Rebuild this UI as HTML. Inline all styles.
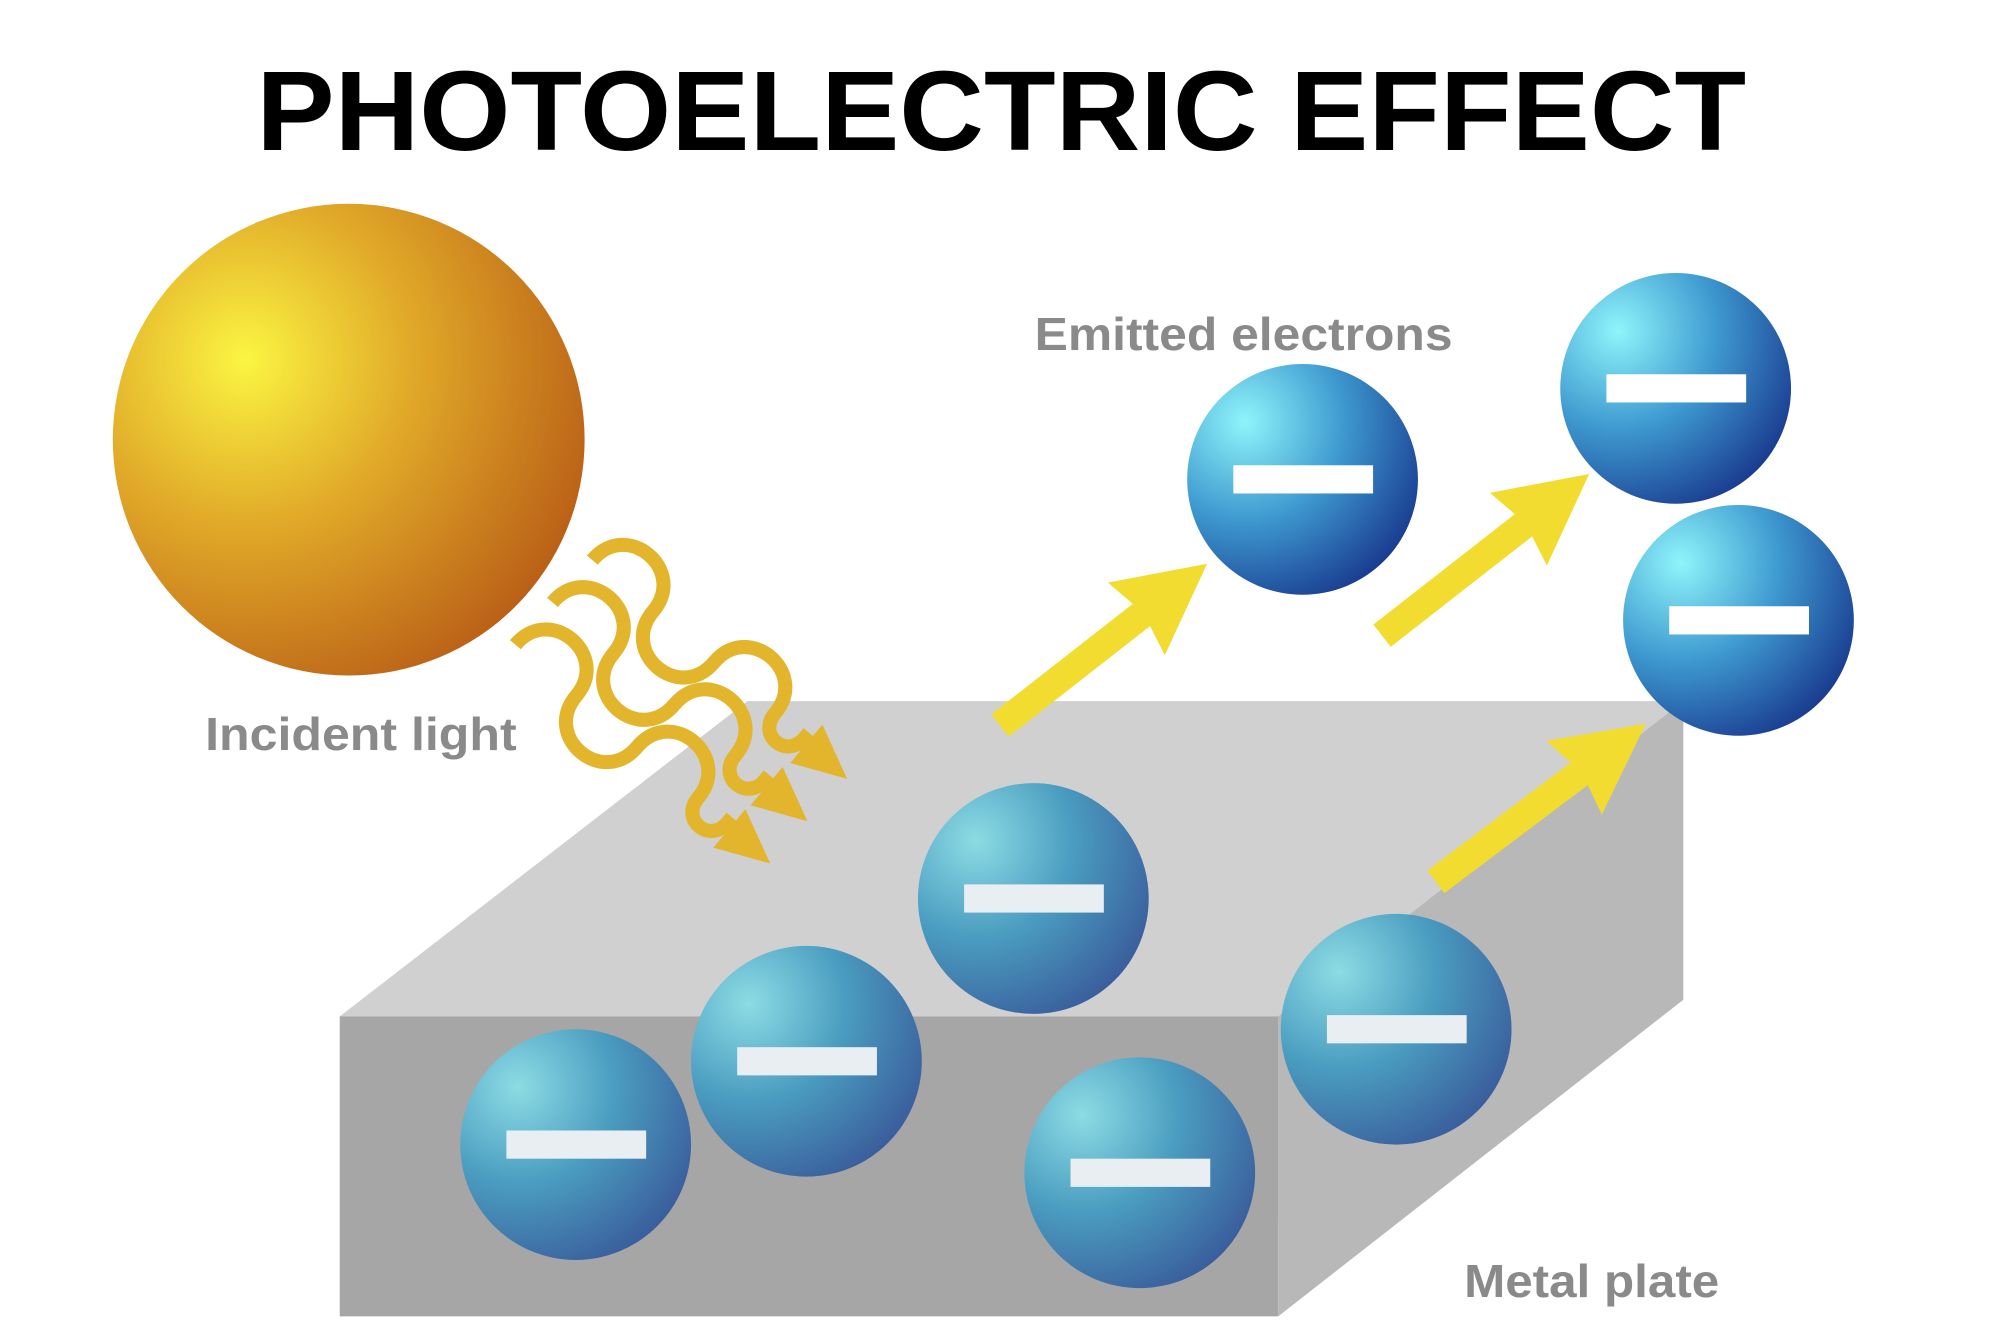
<!DOCTYPE html>
<html><head><meta charset="utf-8"><style>html,body{margin:0;padding:0;background:#fff}svg{display:block}</style></head>
<body>
<svg width="2000" height="1333" viewBox="0 0 1560 1040" preserveAspectRatio="none" xmlns="http://www.w3.org/2000/svg">
<defs>
<radialGradient id="sun" cx="0.28" cy="0.33" r="0.8">
<stop offset="0" stop-color="#fbf542"/><stop offset="0.45" stop-color="#e0a828"/><stop offset="1" stop-color="#b85c16"/>
</radialGradient>
<radialGradient id="el" cx="0.25" cy="0.25" r="0.85">
<stop offset="0" stop-color="#90f4fa"/><stop offset="0.5" stop-color="#3e9ad0"/><stop offset="1" stop-color="#1a3c90"/>
</radialGradient>
<radialGradient id="eli" cx="0.25" cy="0.25" r="0.85">
<stop offset="0" stop-color="#8cdce4"/><stop offset="0.5" stop-color="#4a9cc0"/><stop offset="1" stop-color="#3a5e9c"/>
</radialGradient>
<g id="wave">
<path d="M0,0 c0,-42 62,-42 62,0 c0,42 62,42 62,0 c0,-42 62,-42 62,0 c0,22 30,22 30,0 l14,0" fill="none" stroke="#e2b52c" stroke-width="11"/>
<polygon points="220,-17 262,3 220,22" fill="#e2b52c"/>
</g>
<g id="arr"><polygon points="0,-11 140,-11 135,-36 205,0 135,36 140,11 0,11" fill="#f2dc30"/></g>
</defs>
<text x="781" y="117" text-anchor="middle" font-family="Liberation Sans, sans-serif" font-weight="bold" font-size="88" textLength="1162" lengthAdjust="spacingAndGlyphs" fill="#000">PHOTOELECTRIC EFFECT</text>
<circle cx="272" cy="343" r="184" fill="url(#sun)"/>
<polygon points="265,793 583,547 1313,547 997,793" fill="#d0d0d0"/>
<polygon points="997,793 1313,547 1313,780 997,1027" fill="#b8b8b8"/>
<polygon points="265,793 997,793 997,1027 265,1027" fill="#a6a6a6"/>
<use href="#wave" transform="translate(462,437) rotate(40)"/>
<use href="#wave" transform="translate(431,470) rotate(40)"/>
<use href="#wave" transform="translate(402,503) rotate(40)"/>
<use href="#arr" transform="translate(780,566) rotate(-38)"/>
<use href="#arr" transform="translate(1078,496) rotate(-38)"/>
<use href="#arr" transform="translate(1120,688) rotate(-37)"/>
<g>
<circle cx="1016" cy="374" r="90" fill="url(#el)"/><rect x="962" y="363" width="109" height="22" fill="#fff"/>
<circle cx="1307" cy="303" r="90" fill="url(#el)"/><rect x="1253" y="292" width="109" height="22" fill="#fff"/>
<circle cx="1356" cy="484" r="90" fill="url(#el)"/><rect x="1302" y="473" width="109" height="22" fill="#fff"/>
<circle cx="806" cy="701" r="90" fill="url(#eli)"/><rect x="752" y="690" width="109" height="22" fill="#e8eef2"/>
<circle cx="629" cy="828" r="90" fill="url(#eli)"/><rect x="575" y="817" width="109" height="22" fill="#e8eef2"/>
<circle cx="449" cy="893" r="90" fill="url(#eli)"/><rect x="395" y="882" width="109" height="22" fill="#e8eef2"/>
<circle cx="889" cy="915" r="90" fill="url(#eli)"/><rect x="835" y="904" width="109" height="22" fill="#e8eef2"/>
<circle cx="1089" cy="803" r="90" fill="url(#eli)"/><rect x="1035" y="792" width="109" height="22" fill="#e8eef2"/>
</g>
<g font-family="Liberation Sans, sans-serif" font-weight="bold" font-size="36" fill="#8a8a8a">
<text x="807" y="273" textLength="326" lengthAdjust="spacingAndGlyphs">Emitted electrons</text>
<text x="160" y="585" textLength="243" lengthAdjust="spacingAndGlyphs">Incident light</text>
<text x="1142" y="1012" textLength="199" lengthAdjust="spacingAndGlyphs">Metal plate</text>
</g>
</svg>
</body></html>
